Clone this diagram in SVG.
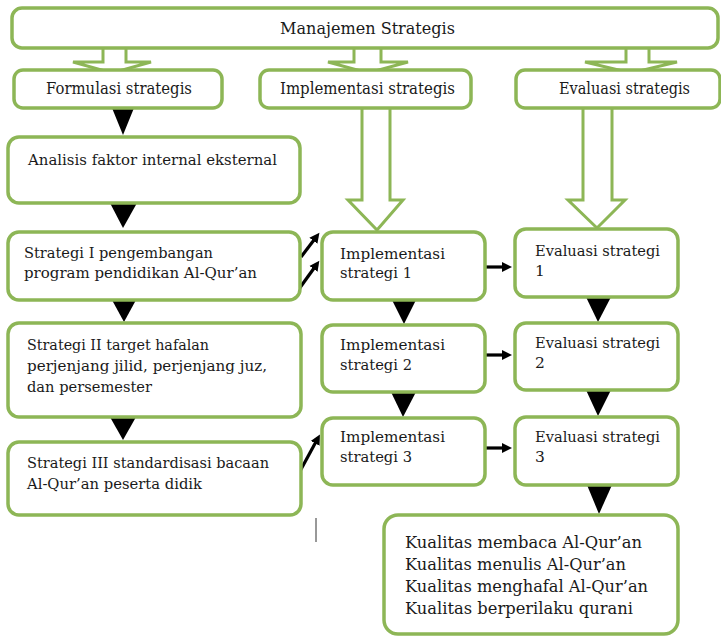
<svg xmlns="http://www.w3.org/2000/svg" width="721" height="638" viewBox="0 0 721 638">
<style>
.box{fill:#fff;stroke:#8db656;stroke-width:3.5}
.blk{fill:#fff;stroke:#8db656;stroke-width:3;stroke-linejoin:miter}
.tri{fill:#000}
.ar{stroke:#000;stroke-width:3.2;fill:none;marker-end:url(#ah)}
text{font-family:"DejaVu Serif","Liberation Serif",serif;fill:#1a1a1a;font-size:15.5px}
.big{font-size:16px}
.kq{font-size:17px}
</style>
<defs>
<marker id="ah" markerWidth="11" markerHeight="11" refX="6" refY="5.5" orient="auto" markerUnits="userSpaceOnUse">
<path d="M0,0.5 L10,5.5 L0,10.5 Z" fill="#000"/>
</marker>
</defs>
<rect width="721" height="638" fill="#fff"/>
<g id="connectors">
<polygon class="blk" points="103,46 103,62 73,62 112,73 151,62 126,62 126,46"/>
<polygon class="blk" points="354,46 354,62 328,62 368,73 408,62 381,62 381,46"/>
<polygon class="blk" points="626,46 626,62 585,62 631,73 677,62 649,62 649,46"/>
<polygon class="blk" points="362,106 362,200 348,200 377,230 403,200 390,200 390,106"/>
<polygon class="blk" points="583,106 583,200 568,200 597,228 625,200 612,200 612,106"/>
<polygon class="tri" points="112,108 134,108 123,135"/>
<polygon class="tri" points="110,203 137,203 123,228"/>
<polygon class="tri" points="112,300 136,300 124,322"/>
<polygon class="tri" points="110,417 136,417 123,440"/>
<polygon class="tri" points="392,300 416,300 404,324"/>
<polygon class="tri" points="391,392 416,392 403,417"/>
<polygon class="tri" points="586,297 611,297 598,322"/>
<polygon class="tri" points="586,390 611,390 598,416"/>
<polygon class="tri" points="587,485 612,485 599,514"/>
<line class="ar" x1="301" y1="257" x2="317" y2="236"/>
<line class="ar" x1="299" y1="289" x2="317" y2="264"/>
<line class="ar" x1="299" y1="473" x2="318" y2="438"/>
<line class="ar" x1="486" y1="267" x2="508" y2="267"/>
<line class="ar" x1="486" y1="355" x2="508" y2="355"/>
<line class="ar" x1="486" y1="448" x2="508" y2="448"/>
</g>
<g id="manajemen"><rect class="box" x="12" y="8" width="706" height="40" rx="10"/>
<text class="big" x="280" y="34" textLength="175" lengthAdjust="spacingAndGlyphs">Manajemen Strategis</text></g>
<g id="formulasi"><rect class="box" x="14" y="70" width="208" height="38" rx="9"/>
<text class="big" x="46" y="94" textLength="146" lengthAdjust="spacingAndGlyphs">Formulasi strategis</text></g>
<g id="implementasi"><rect class="box" x="260" y="70" width="211" height="38" rx="9"/>
<text class="big" x="280" y="94" textLength="175" lengthAdjust="spacingAndGlyphs">Implementasi strategis</text></g>
<g id="evaluasi"><rect class="box" x="516" y="70" width="204" height="38" rx="9"/>
<text class="big" x="559" y="94" textLength="131" lengthAdjust="spacingAndGlyphs">Evaluasi strategis</text></g>
<g id="analisis"><rect class="box" x="8" y="137" width="292" height="66" rx="11"/>
<text x="28" y="165" textLength="249" lengthAdjust="spacingAndGlyphs">Analisis faktor internal eksternal</text></g>
<g id="strategi1"><rect class="box" x="8" y="232" width="292" height="68" rx="11"/>
<text x="24" y="258" textLength="189" lengthAdjust="spacingAndGlyphs">Strategi I pengembangan</text>
<text x="24" y="278" textLength="233" lengthAdjust="spacingAndGlyphs">program pendidikan Al-Qur’an</text></g>
<g id="strategi2"><rect class="box" x="8" y="323" width="293" height="94" rx="11"/>
<text x="27" y="350" textLength="182" lengthAdjust="spacingAndGlyphs">Strategi II target hafalan</text>
<text x="27" y="371" textLength="240" lengthAdjust="spacingAndGlyphs">perjenjang jilid, perjenjang juz,</text>
<text x="27" y="392" textLength="125" lengthAdjust="spacingAndGlyphs">dan persemester</text></g>
<g id="strategi3"><rect class="box" x="8" y="442" width="293" height="73" rx="11"/>
<text x="27" y="468" textLength="242" lengthAdjust="spacingAndGlyphs">Strategi III standardisasi bacaan</text>
<text x="27" y="489" textLength="175" lengthAdjust="spacingAndGlyphs">Al-Qur’an peserta didik</text></g>
<g id="impl1"><rect class="box" x="322" y="232" width="163" height="68" rx="11"/>
<text x="340" y="259" textLength="105" lengthAdjust="spacingAndGlyphs">Implementasi</text>
<text x="340" y="278" textLength="72" lengthAdjust="spacingAndGlyphs">strategi 1</text></g>
<g id="impl2"><rect class="box" x="322" y="325" width="163" height="67" rx="11"/>
<text x="340" y="350" textLength="105" lengthAdjust="spacingAndGlyphs">Implementasi</text>
<text x="340" y="370" textLength="72" lengthAdjust="spacingAndGlyphs">strategi 2</text></g>
<g id="impl3"><rect class="box" x="322" y="418" width="163" height="67" rx="11"/>
<text x="340" y="442" textLength="105" lengthAdjust="spacingAndGlyphs">Implementasi</text>
<text x="340" y="462" textLength="72" lengthAdjust="spacingAndGlyphs">strategi 3</text></g>
<g id="eval1"><rect class="box" x="515" y="229" width="163" height="68" rx="11"/>
<text x="535" y="256" textLength="125" lengthAdjust="spacingAndGlyphs">Evaluasi strategi</text>
<text x="535" y="276">1</text></g>
<g id="eval2"><rect class="box" x="515" y="323" width="163" height="67" rx="11"/>
<text x="535" y="348" textLength="125" lengthAdjust="spacingAndGlyphs">Evaluasi strategi</text>
<text x="535" y="368">2</text></g>
<g id="eval3"><rect class="box" x="515" y="417" width="163" height="68" rx="11"/>
<text x="535" y="442" textLength="125" lengthAdjust="spacingAndGlyphs">Evaluasi strategi</text>
<text x="535" y="462">3</text></g>
<g id="kualitas"><rect class="box" x="384" y="515" width="294" height="119" rx="14"/>
<text class="kq" x="405" y="548" textLength="237" lengthAdjust="spacingAndGlyphs">Kualitas membaca Al-Qur’an</text>
<text class="kq" x="405" y="570" textLength="221" lengthAdjust="spacingAndGlyphs">Kualitas menulis Al-Qur’an</text>
<text class="kq" x="405" y="592" textLength="243" lengthAdjust="spacingAndGlyphs">Kualitas menghafal Al-Qur’an</text>
<text class="kq" x="405" y="614" textLength="228" lengthAdjust="spacingAndGlyphs">Kualitas berperilaku qurani</text></g>
<line x1="316" y1="518" x2="316" y2="542" stroke="#333" stroke-width="1"/>
</svg>
